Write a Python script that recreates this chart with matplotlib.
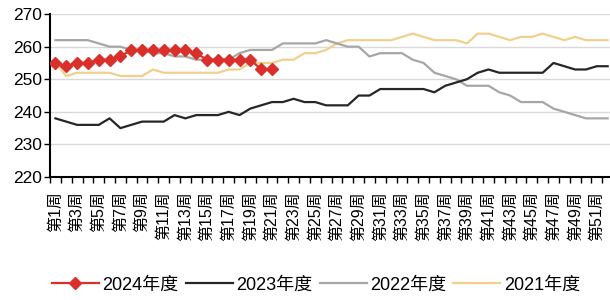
import numpy as np
import matplotlib
matplotlib.use("Agg")
import matplotlib.pyplot as plt

plt.rcParams['font.family'] = ['Liberation Sans', 'Noto Sans CJK SC', 'DejaVu Sans']

weeks = [f"第{i}周" for i in range(1, 53)]

y2024 = [255, 254, 255, 255, 256, 256, 257, 259, 259, 259, 259, 259, 259, 258,
         256, 256, 256, 256, 256, 253, 253]

y2023 = [238, 237, 236, 236, 236, 238, 235, 236, 237, 237, 237, 239, 238, 239,
         239, 239, 240, 239, 241, 242, 243, 243, 244, 243, 243, 242, 242, 242,
         245, 245, 247, 247, 247, 247, 247, 246, 248, 249, 250, 252, 253, 252,
         252, 252, 252, 252, 255, 254, 253, 253, 254, 254]

y2022 = [262, 262, 262, 262, 261, 260, 260, 259, 259, 258, 258, 257, 257, 256,
         256, 256, 256, 258, 259, 259, 259, 261, 261, 261, 261, 262, 261, 260,
         260, 257, 258, 258, 258, 256, 255, 252, 251, 250, 248, 248, 248, 246,
         245, 243, 243, 243, 241, 240, 239, 238, 238, 238]

y2021 = [255, 251, 252, 252, 252, 252, 251, 251, 251, 253, 252, 252, 252, 252,
         252, 252, 253, 253, 255, 255, 255, 256, 256, 258, 258, 259, 261, 262,
         262, 262, 262, 262, 263, 264, 263, 262, 262, 262, 261, 264, 264, 263,
         262, 263, 263, 264, 263, 262, 263, 262, 262, 262]

labels = ["2024年度", "2023年度", "2022年度", "2021年度"]
colors = ["#d9302c", "#262626", "#a6a6a6", "#f0d08c"]

fig = plt.figure(figsize=(6.1, 3.0), dpi=100)
ax = fig.add_axes([0.082, 0.41, 0.923, 0.543])

x = np.arange(len(weeks))
ax.plot(x[:len(y2021)], y2021, color=colors[3], lw=1.6, label=labels[3], zorder=2)
ax.plot(x[:len(y2022)], y2022, color=colors[2], lw=1.6, label=labels[2], zorder=3)
ax.plot(x[:len(y2023)], y2023, color=colors[1], lw=1.6, label=labels[1], zorder=4)
ax.plot(x[:len(y2024)], y2024, color=colors[0], lw=1.6, marker='D', markersize=6.5,
        label=labels[0], zorder=5)

ax.set_ylim(220, 270)
ax.set_yticks(np.arange(220, 271, 10))
ax.set_xlim(-0.5, len(weeks) - 0.5)

ax.set_xticks(x[::2])
ax.set_xticklabels(weeks[::2], rotation=90, fontsize=11.5)
ax.set_xticks(np.arange(-0.5, len(weeks), 1), minor=True)
ax.tick_params(axis='x', which='major', length=0, pad=10)
ax.tick_params(axis='x', which='minor', length=4, width=1, color='black', direction='out')
ax.tick_params(axis='y', length=4, width=1, labelsize=12.5, pad=2)

for v in [230, 240, 250, 260, 270]:
    ax.axhline(v, color='#d9d9d9', lw=1, zorder=1)

for s in ['top', 'right']:
    ax.spines[s].set_visible(False)
ax.spines['left'].set_color('black')
ax.spines['bottom'].set_color('black')
ax.spines['left'].set_linewidth(1.5)
ax.spines['bottom'].set_linewidth(1.5)

h, l = ax.get_legend_handles_labels()
order = [3, 2, 1, 0]
fig.legend([h[i] for i in order], [l[i] for i in order], loc='center',
           bbox_to_anchor=(0.518, 0.05), ncol=4, frameon=False, fontsize=13,
           handlelength=2.6, handletextpad=0.2, columnspacing=0.4)

fig.savefig("out.png", dpi=100)
